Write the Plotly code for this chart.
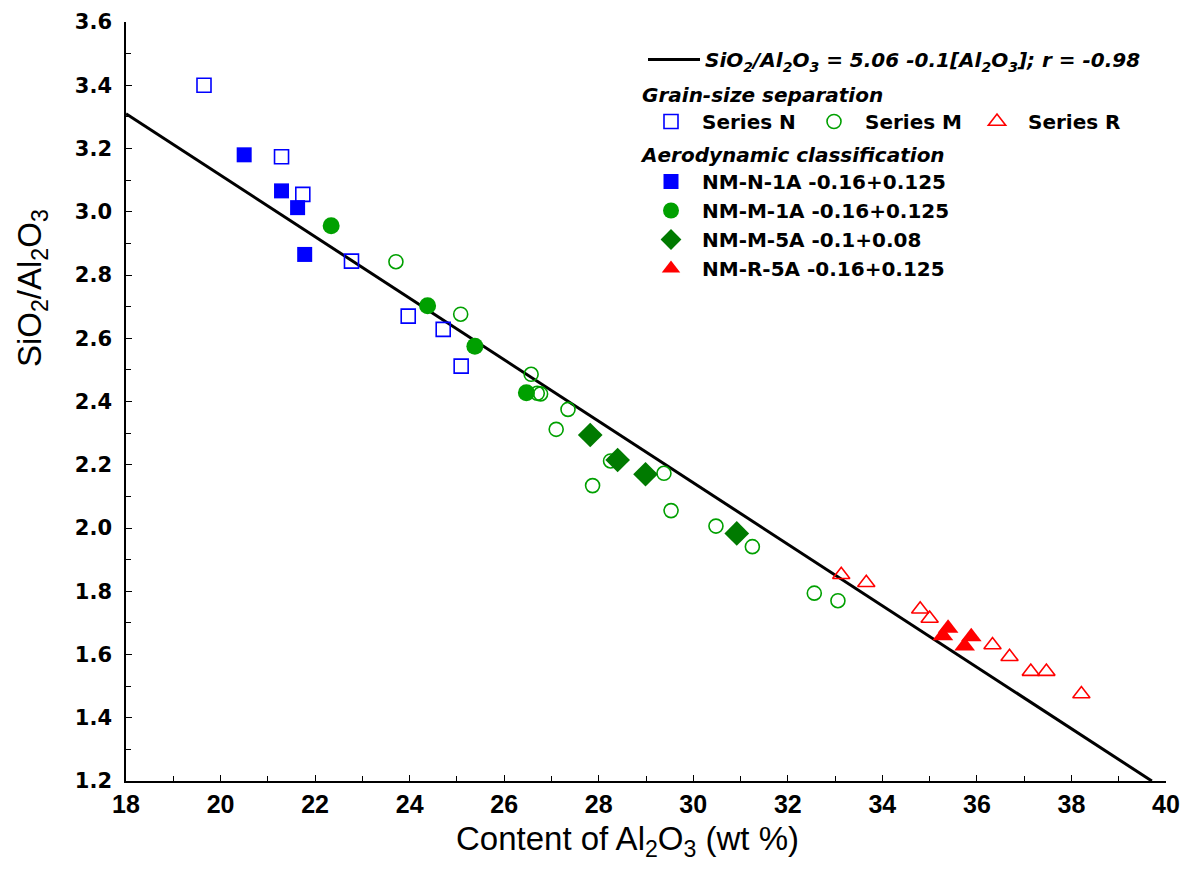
import plotly.graph_objects as go

# ---- data ----
fit_x = [18.0, 39.7]
fit_y = [3.31, 1.20]

seriesN_x = [19.65, 21.29, 21.74, 22.77, 23.97, 24.71, 25.09]
seriesN_y = [3.40, 3.174, 3.055, 2.844, 2.670, 2.628, 2.512]

seriesM_x = [23.71, 25.08, 26.57, 26.70, 26.77, 27.35, 27.10, 28.25, 29.38, 27.87, 29.53, 30.48, 31.25, 32.56, 33.06]
seriesM_y = [2.842, 2.676, 2.486, 2.426, 2.424, 2.375, 2.312, 2.212, 2.173, 2.134, 2.055, 2.006, 1.941, 1.794, 1.770]

seriesR_x = [33.13, 33.66, 34.80, 35.00, 36.33, 36.69, 37.14, 37.47, 38.21]
seriesR_y = [1.852, 1.827, 1.743, 1.714, 1.630, 1.593, 1.546, 1.546, 1.475]

nmN1A_x = [20.50, 21.29, 21.63, 21.78]
nmN1A_y = [3.18, 3.066, 3.013, 2.865]

nmM1A_x = [22.34, 24.38, 25.38, 26.47]
nmM1A_y = [2.956, 2.703, 2.575, 2.428]

nmM5A_x = [27.82, 28.40, 28.99, 30.92]
nmM5A_y = [2.294, 2.215, 2.170, 1.983]

nmR5A_x = [35.39, 35.28, 35.88, 35.74]
nmR5A_y = [1.683, 1.659, 1.656, 1.627]

x_ticks = [18, 20, 22, 24, 26, 28, 30, 32, 34, 36, 38, 40]
y_ticks = [1.2, 1.4, 1.6, 1.8, 2.0, 2.2, 2.4, 2.6, 2.8, 3.0, 3.2, 3.4, 3.6]

BLUE = "#0000FF"
GREEN = "#00A000"
DGREEN = "#007A00"
RED = "#FF0000"
ARIAL = "Liberation Sans, Arial, sans-serif"
WIDE = "DejaVu Sans, Verdana, sans-serif"

fig = go.Figure()

fig.add_trace(go.Scatter(
    x=fit_x, y=fit_y, mode="lines", line=dict(color="black", width=3),
    name="<b><i>SiO<sub>2</sub>/Al<sub>2</sub>O<sub>3</sub> = 5.06 -0.1[Al<sub>2</sub>O<sub>3</sub>]; r = -0.98</i></b>",
    legend="legend"))

fig.add_trace(go.Scatter(
    x=seriesN_x, y=seriesN_y, mode="markers", name="<b>Series N</b>",
    marker=dict(symbol="square-open", size=14, color=BLUE, line=dict(width=1.6)),
    legend="legend2"))
fig.add_trace(go.Scatter(
    x=seriesM_x, y=seriesM_y, mode="markers", name="<b>Series M</b>",
    marker=dict(symbol="circle-open", size=14, color=GREEN, line=dict(width=1.6)),
    legend="legend2"))
fig.add_trace(go.Scatter(
    x=seriesR_x, y=seriesR_y, mode="markers", name="<b>Series R</b>",
    marker=dict(symbol="triangle-up-open", size=15, color=RED, line=dict(width=1.6)),
    legend="legend2"))

fig.add_trace(go.Scatter(
    x=nmN1A_x, y=nmN1A_y, mode="markers", name="<b>NM-N-1A -0.16+0.125</b>",
    marker=dict(symbol="square", size=15, color=BLUE),
    legend="legend3"))
fig.add_trace(go.Scatter(
    x=nmM1A_x, y=nmM1A_y, mode="markers", name="<b>NM-M-1A -0.16+0.125</b>",
    marker=dict(symbol="circle", size=17, color=GREEN),
    legend="legend3"))
fig.add_trace(go.Scatter(
    x=nmM5A_x, y=nmM5A_y, mode="markers", name="<b>NM-M-5A -0.1+0.08</b>",
    marker=dict(symbol="diamond", size=19, color=DGREEN),
    legend="legend3"))
fig.add_trace(go.Scatter(
    x=nmR5A_x, y=nmR5A_y, mode="markers", name="<b>NM-R-5A -0.16+0.125</b>",
    marker=dict(symbol="triangle-up", size=18, color=RED),
    legend="legend3"))

# page body adds an 8px margin; compensate so the plot area sits where the reference has it
OFF = 8
W, H = 1192 - 2 * OFF, 880 - 2 * OFF
L, R, T, B = 126 - OFF, 1192 - OFF - 1166, 22 - OFF, H - (781 - OFF)
pw, ph = W - L - R, H - T - B

def px(x):
    return (x - OFF - L) / pw

def py(y):
    return (H - B - (y - OFF)) / ph

legend_font = dict(family=WIDE, size=20, color="black")

fig.update_layout(
    width=W, height=H, showlegend=True,
    margin=dict(l=L, r=R, t=T, b=B, autoexpand=False),
    paper_bgcolor="white", plot_bgcolor="white",
    font=dict(family=ARIAL, color="black"),
    legend=dict(x=px(643), y=py(40), xanchor="left", yanchor="top",
                font=legend_font, bgcolor="rgba(0,0,0,0)", itemwidth=52),
    legend2=dict(x=px(640), y=py(76), xanchor="left", yanchor="top",
                 orientation="h", font=legend_font, bgcolor="rgba(0,0,0,0)",
                 title=dict(text="<b><i>Grain-size separation</i></b>", side="top",
                            font=legend_font),
                 entrywidth=96, entrywidthmode="pixels", itemwidth=52),
    legend3=dict(x=px(640), y=py(136), xanchor="left", yanchor="top",
                 font=legend_font, bgcolor="rgba(0,0,0,0)", tracegroupgap=0,
                 title=dict(text="<b><i>Aerodynamic classification</i></b>", side="top",
                            font=legend_font),
                 itemwidth=52),
    annotations=[
        dict(text="Content of Al<sub>2</sub>O<sub>3</sub> (wt %)", xref="paper", yref="paper",
             x=px(627), y=py(841), xanchor="center", yanchor="middle", showarrow=False,
             font=dict(family=ARIAL, size=33, color="black")),
        dict(text="SiO<sub>2</sub>/Al<sub>2</sub>O<sub>3</sub>", xref="paper", yref="paper",
             x=px(32), y=py(288), xanchor="center", yanchor="middle", showarrow=False,
             textangle=-90, font=dict(family=ARIAL, size=33, color="black")),
    ],
)

fig.update_xaxes(
    range=[18, 40], tickvals=x_ticks, ticktext=[str(v) for v in x_ticks],
    ticks="inside", ticklen=6, tickwidth=1, tickcolor="black",
    minor=dict(dtick=1, ticks="inside", ticklen=5, tickcolor="black"),
    showline=True, linecolor="black", linewidth=1.5, mirror=False,
    showgrid=False, zeroline=False,
    tickfont=dict(family=ARIAL, size=25, color="black", weight="bold"),
)
fig.update_yaxes(
    range=[1.2, 3.6], tickvals=y_ticks, ticktext=[f"{v:.1f}" for v in y_ticks],
    ticks="inside", ticklen=6, tickwidth=1, tickcolor="black",
    minor=dict(dtick=0.1, ticks="inside", ticklen=5, tickcolor="black"),
    showline=True, linecolor="black", linewidth=1.5, mirror=False,
    showgrid=False, zeroline=False, ticklabelstandoff=8,
    tickfont=dict(family=WIDE, size=21, color="black", weight="bold"),
)

fig.write_html("out.html")
